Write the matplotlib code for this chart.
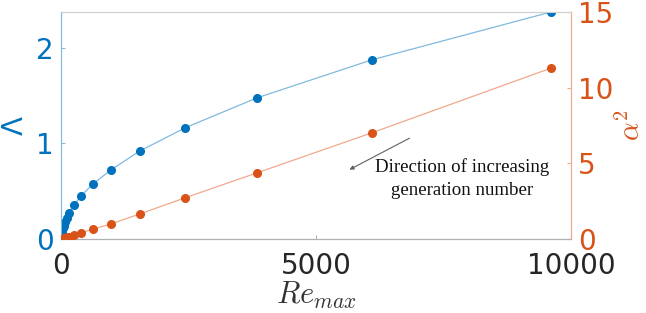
import matplotlib
matplotlib.use("Agg")
import matplotlib.pyplot as plt

re_max = [9608, 6098, 3843, 2431, 1549, 980, 627, 392, 255, 163, 110, 75, 50, 33, 22, 14]
lam = [2.374, 1.874, 1.476, 1.162, 0.921, 0.723, 0.576, 0.450, 0.356, 0.272, 0.215, 0.175, 0.14, 0.11, 0.085, 0.065]
alpha2 = [11.29, 7.02, 4.37, 2.72, 1.66, 0.99, 0.66, 0.40, 0.25, 0.16, 0.10, 0.07, 0.045, 0.03, 0.02, 0.012]
x_ticks = [0, 5000, 10000]
left_ticks = [0, 1, 2]
right_ticks = [0, 5, 10, 15]

blue = "#0072BD"
orange = "#D95319"
blue_line = "#80B9DE"
orange_line = "#F0A98C"

fig = plt.figure(figsize=(6.46, 3.13), dpi=100)
ax = fig.add_axes([0.0944, 0.2364, 0.7895, 0.7253])
ax2 = ax.twinx()

ax.plot(re_max, lam, color=blue_line, lw=0.9, zorder=2)
ax.plot(re_max, lam, 'o', color=blue, ms=5.5, zorder=3)
ax2.plot(re_max, alpha2, color=orange_line, lw=0.9, zorder=2)
ax2.plot(re_max, alpha2, 'o', color=orange, ms=5.5, zorder=3)

ax.set_xlim(0, 10000)
ax.set_ylim(0, max(lam))
ax2.set_ylim(0, 15)
ax.set_xticks(x_ticks)
ax.set_yticks(left_ticks)
ax2.set_yticks(right_ticks)

for a in (ax, ax2):
    a.spines['top'].set_color('#d0d0d0')
    a.spines['bottom'].set_color('#b0b0b0')
    a.spines['left'].set_color(blue_line)
    a.spines['right'].set_color(orange_line)
    for s in a.spines.values():
        s.set_linewidth(0.8)

ax.tick_params(axis='x', direction='in', length=3, labelsize=20, colors='#b0b0b0', labelcolor='#262626', pad=9)
ax.tick_params(axis='y', direction='in', length=3, labelsize=20, colors=blue_line, labelcolor=blue, pad=5)
ax2.tick_params(axis='y', direction='in', length=3, labelsize=20, colors=orange_line, labelcolor=orange, pad=5)

ax.set_ylabel(r'$\Lambda$', color=blue, fontsize=20, labelpad=5)
ax2.set_ylabel(r'$\alpha^2$', color=orange, fontsize=21, labelpad=2, math_fontfamily='cm')
ax.set_xlabel(r'$Re_{max}$', color='#333333', fontsize=22, labelpad=0, math_fontfamily='cm')

ax.annotate('', xy=(5608, 0.712), xytext=(6882, 1.068),
            arrowprops=dict(arrowstyle='-|>', color='#606060', lw=0.8, mutation_scale=6))
ax.text(7863, 0.628, 'Direction of increasing\ngeneration number', ha='center', va='center',
        fontsize=13.6, family='Liberation Serif', linespacing=1.45, color='#111111')

fig.savefig('out.png', dpi=100)
